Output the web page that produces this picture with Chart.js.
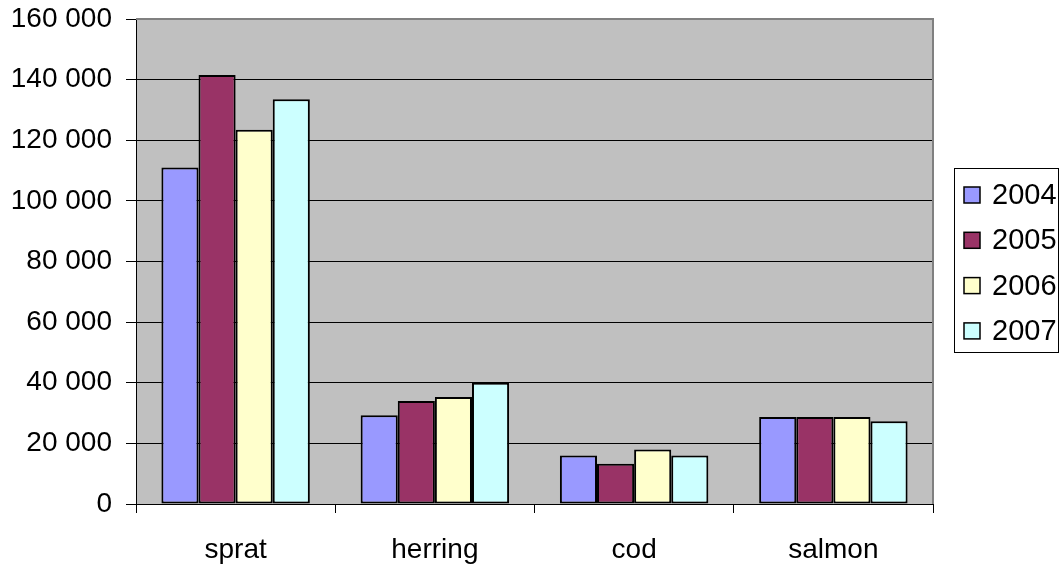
<!DOCTYPE html>
<html>
<head>
<meta charset="utf-8">
<script src="https://cdn.jsdelivr.net/npm/chart.js@4"></script>
<style>
html,body{margin:0;padding:0;background:#fff;}
#wrap{width:1064px;height:565px;}
</style>
</head>
<body>
<div id="wrap"><canvas id="c" width="1064" height="565"></canvas></div>
<script>
const categories = ["sprat", "herring", "cod", "salmon"];
const seriesNames = ["2004", "2005", "2006", "2007"];
const values2004 = [111000, 29300, 16000, 28700];
const values2005 = [141500, 34000, 13300, 28700];
const values2006 = [123500, 35300, 18000, 28700];
const values2007 = [133500, 40000, 16000, 27300];
const seriesColors = ["#9999FF", "#993366", "#FFFFCC", "#CCFFFF"];
const yTicks = [0, 20000, 40000, 60000, 80000, 100000, 120000, 140000, 160000];

const seriesValues = [values2004, values2005, values2006, values2007];
const FONT = "'Liberation Sans', Arial, sans-serif";

function fmt(v){
  return String(v).replace(/\B(?=(\d{3})+(?!\d))/g, " ");
}

const plotBg = {
  id: "plotBg",
  beforeDraw(chart){
    const {ctx, chartArea:a} = chart;
    ctx.save();
    ctx.fillStyle = "#C0C0C0";
    ctx.fillRect(a.left, a.top, a.right - a.left, a.bottom - a.top);
    ctx.restore();
  },
  afterDraw(chart){
    const {ctx, chartArea:a} = chart;
    ctx.save();
    ctx.strokeStyle = "#808080";
    ctx.lineWidth = 2;
    ctx.beginPath();
    ctx.moveTo(a.left, a.top);
    ctx.lineTo(a.right, a.top);
    ctx.lineTo(a.right, a.bottom);
    ctx.stroke();
    // legend
    const bx = 954, by = 168, bw = 104, bh = 184;
    ctx.fillStyle = "#fff";
    ctx.fillRect(bx, by, bw, bh);
    ctx.strokeStyle = "#000";
    ctx.lineWidth = 1;
    ctx.strokeRect(bx + 0.5, by + 0.5, bw, bh);
    ctx.font = "29px " + FONT;
    ctx.textBaseline = "middle";
    ctx.textAlign = "left";
    seriesNames.forEach((n, i) => {
      const cy = 195 + i * 45.3;
      ctx.fillStyle = seriesColors[i];
      ctx.fillRect(964, cy - 8, 16, 16);
      ctx.strokeStyle = "#000";
      ctx.lineWidth = 1.5;
      ctx.strokeRect(964, cy - 8, 16, 16);
      ctx.fillStyle = "#000";
      ctx.fillText(n, 992, cy + 1);
    });
    ctx.restore();
  }
};

new Chart(document.getElementById("c"), {
  type: "bar",
  data: {
    labels: categories,
    datasets: seriesNames.map((n, i) => ({
      label: n,
      data: seriesValues[i],
      backgroundColor: seriesColors[i],
      borderColor: "#000",
      borderWidth: 2,
      borderSkipped: false,
      categoryPercentage: 0.745,
      barPercentage: 1.0
    }))
  },
  options: {
    responsive: false,
    devicePixelRatio: 1,
    animation: false,
    layout: { padding: { left: 0, right: 131, top: 19, bottom: 0 } },
    plugins: { legend: { display: false }, tooltip: { enabled: false } },
    scales: {
      x: {
        offset: true,
        grid: { display: true, offset: true, drawOnChartArea: false, color: "#000", tickLength: 9, lineWidth: 1 },
        border: { display: true, color: "#000", width: 1 },
        ticks: { color: "#000", font: { family: FONT, size: 28 }, padding: 20 },
        afterFit(s){ s.height = 61; }
      },
      y: {
        min: 0, max: 160000,
        afterBuildTicks(s){ s.ticks = yTicks.map(v => ({ value: v })); },
        grid: { color: "#000", lineWidth: 1, tickLength: 10 },
        border: { display: true, color: "#000", width: 1 },
        ticks: { color: "#000", font: { family: FONT, size: 28, lineHeight: 0.3 }, padding: 14, callback: v => fmt(v) },
        afterFit(s){ s.width = 136; }
      }
    }
  },
  plugins: [plotBg]
});
</script>
</body>
</html>
